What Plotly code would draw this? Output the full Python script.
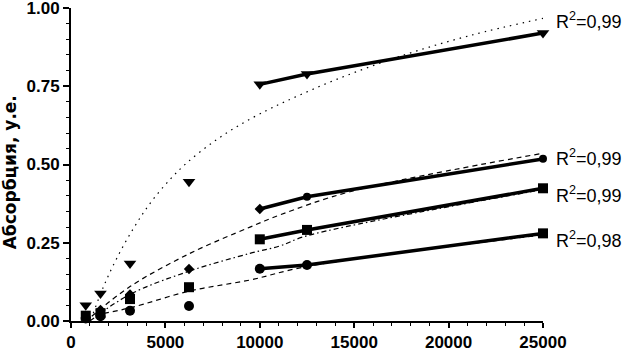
import plotly.graph_objects as go

# ---- data ----
conc = [781.25, 1562.5, 3125, 6250, 10000, 12500, 25000]

tri_y = [0.050, 0.088, 0.184, 0.445, 0.756, 0.789, 0.920]
dia_y = [0.012, 0.035, 0.085, 0.166, 0.358, 0.397, 0.518]
sq_y = [0.017, 0.025, 0.070, 0.108, 0.261, 0.291, 0.424]
circ_y = [0.008, 0.015, 0.033, 0.048, 0.167, 0.179, 0.280]

# trend curves
tri_tx = [1180, 1710, 2420, 3300, 4190, 5240, 6130, 7540, 8950, 10370, 11420, 14070, 17600, 21130, 25000]
tri_ty = [0.025, 0.108, 0.200, 0.295, 0.376, 0.452, 0.505, 0.572, 0.627, 0.673, 0.703, 0.772, 0.849, 0.912, 0.967]

dia_tx = [1100, 3125, 6300, 9480, 11070, 14780, 25000]
dia_ty = [0.015, 0.110, 0.216, 0.300, 0.339, 0.413, 0.536]

sq_tx = [1000, 3125, 6300, 9480, 11070, 12480, 25000]
sq_ty = [0.000, 0.085, 0.160, 0.216, 0.240, 0.272, 0.420]

circ_tx = [1270, 3125, 6300, 9480, 12480, 25000]
circ_ty = [0.019, 0.042, 0.096, 0.131, 0.174, 0.275]

x_ticks = [0, 5000, 10000, 15000, 20000, 25000]
x_tick_labels = ["0", "5000", "10000", "15000", "20000", "25000"]
y_ticks = [0, 0.25, 0.5, 0.75, 1.0]
y_tick_labels = ["0.00", "0.25", "0.50", "0.75", "1.00"]

r2_labels = ["R<sup>2</sup>=0,99", "R<sup>2</sup>=0,99", "R<sup>2</sup>=0,99", "R<sup>2</sup>=0,98"]
r2_y = [0.960, 0.521, 0.403, 0.259]

y_title = "Абсорбция, у.е."

fig = go.Figure()

# trend lines
for tx, ty, dash in [(tri_tx, tri_ty, "1.5px,5px"), (dia_tx, dia_ty, "5px,4px"),
                     (sq_tx, sq_ty, "5px,3px,1.5px,3px"), (circ_tx, circ_ty, "5px,4px")]:
    fig.add_trace(go.Scatter(x=tx, y=ty, mode="lines", line_shape="spline",
                             line=dict(color="black", width=1.2, dash=dash),
                             hoverinfo="skip", cliponaxis=False))

series = [
    (tri_y, "triangle-down", 11, ["triangle-down"] * 7),
    (dia_y, "diamond", 8, ["diamond"] * 5 + ["circle", "circle"]),
    (sq_y, "square", 10, ["square"] * 7),
    (circ_y, "circle", 10, ["circle"] * 6 + ["square"]),
]
# connecting solid lines over the last three concentrations
for ys, sym, size, syms in series:
    fig.add_trace(go.Scatter(x=conc[4:], y=ys[4:], mode="lines", cliponaxis=False,
                             line=dict(color="black", width=3.5)))
# markers
for ys, sym, size, syms in series:
    fig.add_trace(go.Scatter(x=conc, y=ys, mode="markers", cliponaxis=False,
                             marker=dict(symbol=syms, size=size, color="black",
                                         opacity=1, line=dict(width=0))))

for lab, yy in zip(r2_labels, r2_y):
    fig.add_annotation(x=25000, y=yy, xref="x", yref="y", text=lab, showarrow=False,
                       xanchor="left", yanchor="middle", xshift=11,
                       font=dict(family="Liberation Sans", size=18, color="black"))

axis_font = dict(family="Liberation Sans", size=17, color="black")

fig.update_layout(
    width=629, height=352,
    margin=dict(l=71, r=86, t=8, b=31),
    paper_bgcolor="white", plot_bgcolor="white",
    showlegend=False,
    xaxis=dict(range=[0, 25000], showgrid=False, zeroline=False, automargin=False,
               showline=True, linecolor="black", linewidth=2, ticklabeloverflow="allow",
               ticks="outside", ticklen=5, tickwidth=1.5, tickcolor="black",
               tickvals=x_ticks, ticktext=["<b>%s</b>" % t for t in x_tick_labels],
               tickfont=axis_font,
               minor=dict(ticks="outside", ticklen=3, tickwidth=1.2, tickcolor="black", dtick=1000)),
    yaxis=dict(range=[0, 1.0], showgrid=False, zeroline=False, automargin=False,
               showline=True, linecolor="black", linewidth=2, ticklabeloverflow="allow",
               ticks="outside", ticklen=6, tickwidth=1.5, tickcolor="black",
               tickvals=y_ticks, ticktext=["<b>%s</b>" % t for t in y_tick_labels],
               tickfont=axis_font,
               minor=dict(ticks="outside", ticklen=3, tickwidth=1.2, tickcolor="black", dtick=0.05)),
)

fig.add_annotation(x=0, y=0.475, xref="paper", yref="paper", xshift=-61,
                   text="<b>%s</b>" % y_title, textangle=-90, showarrow=False,
                   xanchor="center", yanchor="middle",
                   font=dict(family="DejaVu Sans", size=17, color="black"))

fig.write_html("out.html", config={"displayModeBar": False},
               post_script="document.body.style.margin='0';document.body.style.padding='0';")
